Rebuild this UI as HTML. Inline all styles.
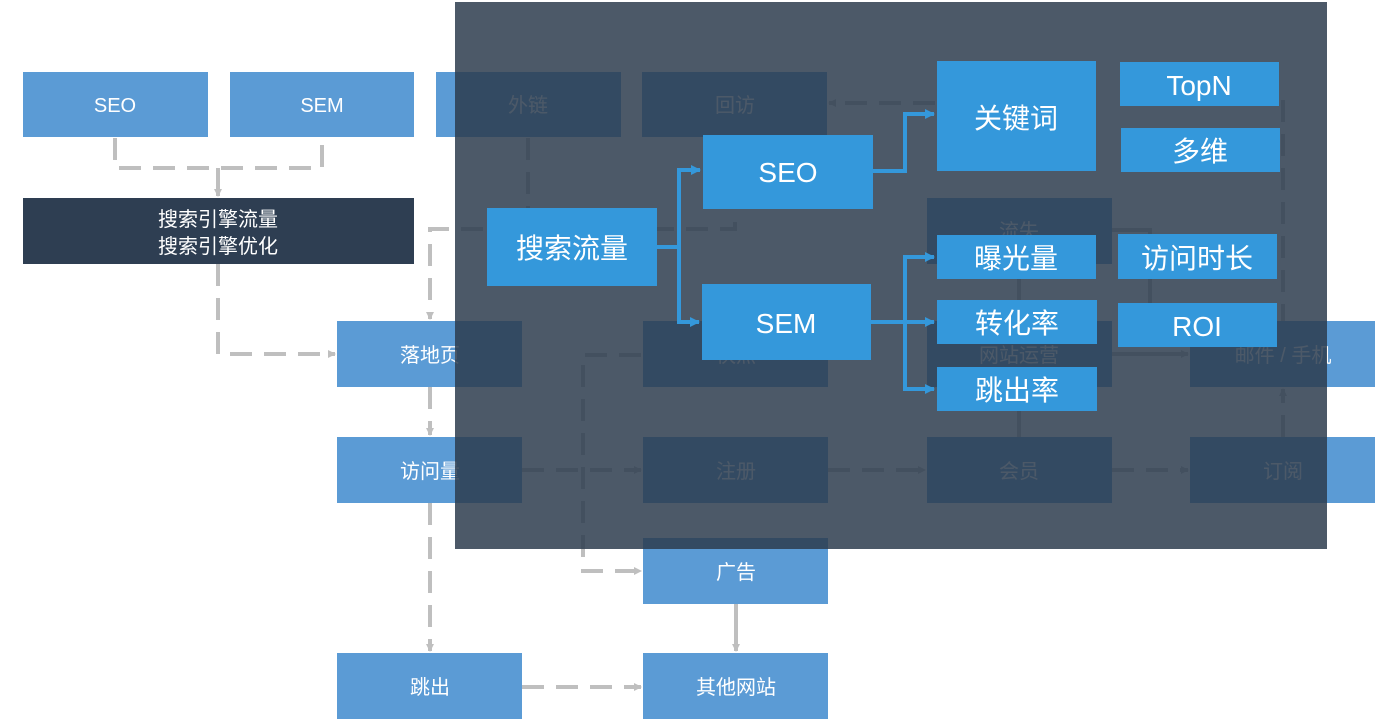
<!DOCTYPE html>
<html><head><meta charset="utf-8"><style>
html,body{margin:0;padding:0;background:#fff;}
svg{display:block}
text{font-family:"Liberation Sans","Noto Sans CJK SC",sans-serif;}
</style></head><body>
<svg width="1383" height="727" viewBox="0 0 1383 727" xmlns="http://www.w3.org/2000/svg">
<defs>
<marker id="ga" markerWidth="8" markerHeight="8" refX="7" refY="4" orient="auto" markerUnits="userSpaceOnUse"><path d="M0,0 L8,4 L0,8z" fill="#bfbfbf"/></marker>
<marker id="ba" markerWidth="10" markerHeight="10" refX="9" refY="5" orient="auto" markerUnits="userSpaceOnUse"><path d="M0,0 L10,5 L0,10z" fill="#3498db"/></marker>
</defs>
<g stroke="#bfbfbf" stroke-width="4" fill="none" stroke-dasharray="22,12">
<path d="M115,138 V168 H322 V138"/>
<path d="M218,168 V196" stroke-dasharray="none" marker-end="url(#ga)"/>
<path d="M218,264 V354 H335" marker-end="url(#ga)"/>
<path d="M528,138 V229 H430 V319" marker-end="url(#ga)"/>
<path d="M735,222 V229 H600"/>
<path d="M935,103 H829" marker-end="url(#ga)"/>
<path d="M430,387 V435" marker-end="url(#ga)"/>
<path d="M430,503 V651" marker-end="url(#ga)"/>
<path d="M522,470 H641" marker-end="url(#ga)"/>
<path d="M828,470 H925" marker-end="url(#ga)"/>
<path d="M1112,470 H1188" marker-end="url(#ga)"/>
<path d="M1112,354 H1188" stroke-dasharray="none" marker-end="url(#ga)"/>
<path d="M1283,437 V389" marker-end="url(#ga)"/>
<path d="M1283,100 V321"/>
<path d="M641,355 H583 V571 H641" marker-end="url(#ga)"/>
<path d="M736,604 V651" stroke-dasharray="none" marker-end="url(#ga)"/>
<path d="M522,687 H641" marker-end="url(#ga)"/>
<path d="M1019,264 V437" stroke-dasharray="none"/>
<path d="M1112,230 H1150 V321" stroke-dasharray="none"/>
</g>
<g fill="#5b9bd5">
<rect x="23" y="72" width="185" height="65"/>
<rect x="230" y="72" width="184" height="65"/>
<rect x="436" y="72" width="185" height="65"/>
<rect x="642" y="72" width="185" height="65"/>
<rect x="337" y="321" width="185" height="66"/>
<rect x="643" y="321" width="185" height="66"/>
<rect x="927" y="321" width="185" height="66"/>
<rect x="1190" y="321" width="185" height="66"/>
<rect x="927" y="198" width="185" height="66"/>
<rect x="337" y="437" width="185" height="66"/>
<rect x="643" y="437" width="185" height="66"/>
<rect x="927" y="437" width="185" height="66"/>
<rect x="1190" y="437" width="185" height="66"/>
<rect x="643" y="538" width="185" height="66"/>
<rect x="337" y="653" width="185" height="66"/>
<rect x="643" y="653" width="185" height="66"/>
</g>
<rect x="23" y="198" width="391" height="66" fill="#2e3e52"/>
<g fill="#fff" font-size="20" text-anchor="middle">
<text x="115" y="112">SEO</text>
<text x="322" y="112">SEM</text>
<text x="528" y="112">外链</text>
<text x="735" y="112">回访</text>
<text x="218" y="226">搜索引擎流量</text>
<text x="218" y="253">搜索引擎优化</text>
<text x="430" y="362">落地页</text>
<text x="736" y="362">快照</text>
<text x="1019" y="362">网站运营</text>
<text x="1283" y="362">邮件 / 手机</text>
<text x="1019" y="238">流失</text>
<text x="430" y="478">访问量</text>
<text x="736" y="478">注册</text>
<text x="1019" y="478">会员</text>
<text x="1283" y="478">订阅</text>
<text x="736" y="579">广告</text>
<text x="430" y="694">跳出</text>
<text x="736" y="694">其他网站</text>
</g>
<rect x="455" y="2" width="872" height="547" fill="rgb(45,60,78)" fill-opacity="0.85"/>
<g stroke="#3498db" stroke-width="4" fill="none">
<path d="M657,247 H679 V170 H700" marker-end="url(#ba)"/>
<path d="M679,247 V322 H699" marker-end="url(#ba)"/>
<path d="M873,171 H905 V114 H934" marker-end="url(#ba)"/>
<path d="M871,322 H934" marker-end="url(#ba)"/>
<path d="M905,322 V257 H934" marker-end="url(#ba)"/>
<path d="M905,322 V389 H934" marker-end="url(#ba)"/>
</g>
<g fill="#3498db">
<rect x="487" y="208" width="170" height="78"/>
<rect x="703" y="135" width="170" height="74"/>
<rect x="702" y="284" width="169" height="76"/>
<rect x="937" y="61" width="159" height="110"/>
<rect x="1120" y="62" width="159" height="44"/>
<rect x="1121" y="128" width="159" height="44"/>
<rect x="937" y="235" width="159" height="44"/>
<rect x="1118" y="234" width="159" height="45"/>
<rect x="937" y="300" width="160" height="44"/>
<rect x="1118" y="303" width="159" height="44"/>
<rect x="937" y="367" width="160" height="44"/>
</g>
<g fill="#fff" font-size="28" text-anchor="middle">
<text x="572" y="258">搜索流量</text>
<text x="788" y="182">SEO</text>
<text x="786" y="333">SEM</text>
<text x="1016" y="128">关键词</text>
<text x="1199" y="95">TopN</text>
<text x="1200" y="161">多维</text>
<text x="1016" y="268">曝光量</text>
<text x="1197" y="268">访问时长</text>
<text x="1017" y="333">转化率</text>
<text x="1197" y="336">ROI</text>
<text x="1017" y="400">跳出率</text>
</g>
</svg>
</body></html>
